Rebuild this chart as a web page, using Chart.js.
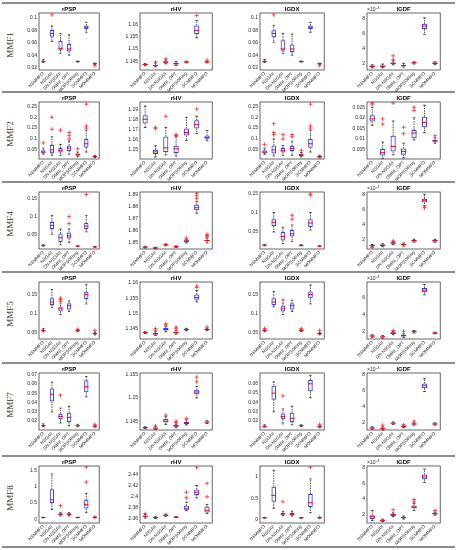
<!DOCTYPE html>
<html>
<head>
<meta charset="utf-8">
<script src="https://cdn.jsdelivr.net/npm/chart.js@4.4.1/dist/chart.umd.min.js"></script>
<style>
  body { margin: 0; background: #fff; }
  #wrap { position: relative; width: 457px; height: 550px; overflow: hidden; }
  .hline { position: absolute; left: 2px; width: 453px; height: 2px; background: #8c8c8c; }
  .rlab { position: absolute; font-family: "Liberation Serif", serif; font-size: 9px; color: #333;
          transform: rotate(-90deg); transform-origin: center; width: 40px; text-align: center; }
  canvas { position: absolute; }
</style>
</head>
<body>
<div id="wrap"></div>
<script>
const categories = ['NSMMFO', 'NSGAII', 'DN-NSGAII', 'OMNI_OPT', 'MOPSORing', 'SCMMFO', 'MOMMFO'];
const rows = ['MMF1', 'MMF2', 'MMF4', 'MMF5', 'MMF7', 'MMF8'];
const metrics = ['rPSP', 'rHV', 'IGDX', 'IGDF'];

// each box: [lower whisker, q1, median, q3, upper whisker]
const MMF1_rPSP = [[0.028,0.0293,0.030,0.0307,0.033],[0.062,0.0695,0.075,0.0805,0.087],[0.043,0.048,0.051,0.063,0.075],[0.040,0.046,0.050,0.058,0.073],[0.0288,0.0294,0.0297,0.0300,0.0305],[0.077,0.082,0.085,0.088,0.093],[0.0250,0.0257,0.0262,0.0266,0.0272]];
const MMF1_rPSP_out = [['NSGAII',0.105],['MOMMFO',0.023]];
const MMF1_rPSP_ticks = [0.02,0.04,0.06,0.08,0.1];
const MMF1_rPSP_lim = [0.016,0.108];

const MMF1_rHV = [[1.1432,1.1435,1.1437,1.1439,1.1441],[1.1428,1.1431,1.1433,1.1436,1.1443],[1.1440,1.1444,1.1446,1.1450,1.1455],[1.1433,1.1437,1.1440,1.1445,1.1449],[1.1444,1.1446,1.1447,1.1449,1.1451],[1.1545,1.1560,1.1575,1.1595,1.1615],[1.1444,1.1446,1.1447,1.1448,1.1450]];
const MMF1_rHV_out = [['NSGAII',1.1447],['DN-NSGAII',1.1460],['SCMMFO',1.1635],['MOMMFO',1.1455]];
const MMF1_rHV_ticks = [1.145,1.15,1.155,1.16];
const MMF1_rHV_lim = [1.1415,1.1645];

const MMF1_IGDX = [[0.028,0.0293,0.030,0.0307,0.033],[0.061,0.069,0.075,0.080,0.088],[0.043,0.047,0.050,0.064,0.075],[0.040,0.045,0.050,0.057,0.074],[0.0288,0.0294,0.0297,0.0300,0.0305],[0.077,0.082,0.085,0.088,0.093],[0.0250,0.0257,0.0262,0.0266,0.0272]];
const MMF1_IGDX_out = [['NSGAII',0.105],['MOMMFO',0.023]];
const MMF1_IGDX_ticks = [0.02,0.04,0.06,0.08,0.1];
const MMF1_IGDX_lim = [0.016,0.108];

const MMF1_IGDF = [[0.0014,0.0015,0.0016,0.0017,0.0018],[0.0014,0.0015,0.0016,0.0017,0.0019],[0.0018,0.0019,0.0020,0.0021,0.0023],[0.0015,0.0016,0.0017,0.0018,0.0020],[0.0019,0.0020,0.00205,0.00215,0.0022],[0.0059,0.0066,0.0070,0.0073,0.0081],[0.0018,0.0019,0.0020,0.0021,0.0022]];
const MMF1_IGDF_out = [['DN-NSGAII',0.0025],['DN-NSGAII',0.0030]];
const MMF1_IGDF_ticks = [0.002,0.004,0.006,0.008];
const MMF1_IGDF_lim = [0.0011,0.00875];

const MMF2_rPSP = [[0.030,0.035,0.040,0.048,0.058],[0.025,0.035,0.050,0.072,0.110],[0.025,0.038,0.048,0.058,0.075],[0.030,0.045,0.058,0.070,0.090],[0.018,0.023,0.028,0.033,0.040],[0.040,0.060,0.078,0.100,0.140],[0.015,0.017,0.020,0.023,0.025]];
const MMF2_rPSP_out = [['NSMMFO',0.082],['NSGAII',0.145],['NSGAII',0.2],['DN-NSGAII',0.14],['OMNI_OPT',0.1],['OMNI_OPT',0.115],['OMNI_OPT',0.13],['MOPSORing',0.055],['SCMMFO',0.15],['SCMMFO',0.16],['SCMMFO',0.26]];
const MMF2_rPSP_ticks = [0.05,0.1,0.15,0.2,0.25];
const MMF2_rPSP_lim = [0.008,0.27];

const MMF2_rHV = [[1.172,1.176,1.180,1.184,1.193],[1.143,1.146,1.148,1.150,1.154],[1.145,1.148,1.152,1.163,1.172],[1.144,1.147,1.151,1.154,1.163],[1.159,1.164,1.167,1.171,1.182],[1.166,1.171,1.175,1.179,1.183],[1.159,1.161,1.162,1.164,1.169]];
const MMF2_rHV_out = [['NSGAII',1.171],['NSGAII',1.172],['DN-NSGAII',1.183],['OMNI_OPT',1.164],['OMNI_OPT',1.165],['SCMMFO',1.19]];
const MMF2_rHV_ticks = [1.15,1.16,1.17,1.18,1.19];
const MMF2_rHV_lim = [1.141,1.197];

const MMF2_IGDX = [[0.030,0.035,0.040,0.048,0.058],[0.022,0.033,0.050,0.070,0.100],[0.025,0.038,0.048,0.058,0.070],[0.025,0.045,0.056,0.068,0.090],[0.018,0.022,0.027,0.032,0.038],[0.040,0.060,0.078,0.100,0.140],[0.013,0.015,0.018,0.022,0.025]];
const MMF2_IGDX_out = [['NSMMFO',0.075],['NSGAII',0.12],['NSGAII',0.13],['NSGAII',0.17],['DN-NSGAII',0.1],['DN-NSGAII',0.12],['OMNI_OPT',0.11],['OMNI_OPT',0.12],['MOPSORing',0.048],['SCMMFO',0.15],['SCMMFO',0.16],['SCMMFO',0.26]];
const MMF2_IGDX_ticks = [0.05,0.1,0.15,0.2,0.25];
const MMF2_IGDX_lim = [0.008,0.27];

const MMF2_IGDF = [[0.0165,0.0183,0.0195,0.0212,0.025],[0.0008,0.0022,0.0035,0.0052,0.0085],[0.0025,0.004,0.0065,0.0115,0.0185],[0.001,0.0025,0.004,0.0055,0.008],[0.0095,0.0103,0.0128,0.0142,0.020],[0.013,0.0155,0.0178,0.0205,0.026],[0.008,0.0088,0.009,0.0095,0.0105]];
const MMF2_IGDF_out = [['NSMMFO',0.0265],['NSMMFO',0.027],['NSGAII',0.017],['NSGAII',0.0195],['DN-NSGAII',0.027],['OMNI_OPT',0.0125],['OMNI_OPT',0.0155],['MOPSORing',0.0235],['MOPSORing',0.025],['MOMMFO',0.0115]];
const MMF2_IGDF_ticks = [0.005,0.01,0.015,0.02,0.025];
const MMF2_IGDF_lim = [0.0005,0.0275];

const MMF4_rPSP = [[0.016,0.017,0.018,0.019,0.020],[0.050,0.065,0.075,0.085,0.103],[0.020,0.028,0.040,0.052,0.065],[0.027,0.038,0.045,0.055,0.065],[0.015,0.0158,0.0163,0.0168,0.0175],[0.057,0.065,0.073,0.082,0.103],[0.013,0.0137,0.014,0.0145,0.015]];
const MMF4_rPSP_out = [['OMNI_OPT',0.08],['OMNI_OPT',0.1],['SCMMFO',0.163]];
const MMF4_rPSP_ticks = [0.05,0.1,0.15];
const MMF4_rPSP_lim = [0.008,0.17];

const MMF4_rHV = [[1.8458,1.8462,1.8465,1.8468,1.8472],[1.8453,1.8456,1.8459,1.8462,1.8465],[1.8478,1.8482,1.8485,1.8488,1.8492],[1.8463,1.8466,1.8469,1.8472,1.8476],[1.8500,1.8508,1.8515,1.8522,1.8530],[1.8745,1.8770,1.8790,1.8815,1.8840],[1.8500,1.8515,1.8520,1.8525,1.8540]];
const MMF4_rHV_out = [['MOPSORing',1.854],['SCMMFO',1.8865],['SCMMFO',1.889],['SCMMFO',1.891],['MOMMFO',1.855],['MOMMFO',1.856],['MOMMFO',1.857]];
const MMF4_rHV_ticks = [1.85,1.86,1.87,1.88,1.89];
const MMF4_rHV_lim = [1.845,1.892];

const MMF4_IGDX = [[0.014,0.015,0.016,0.017,0.018],[0.050,0.065,0.075,0.083,0.100],[0.020,0.028,0.038,0.050,0.062],[0.025,0.038,0.045,0.055,0.068],[0.014,0.015,0.0155,0.016,0.017],[0.055,0.063,0.073,0.083,0.100],[0.012,0.0128,0.0133,0.0138,0.0145]];
const MMF4_IGDX_out = [['OMNI_OPT',0.083],['OMNI_OPT',0.093],['SCMMFO',0.145],['SCMMFO',0.148]];
const MMF4_IGDX_ticks = [0.05,0.1,0.15];
const MMF4_IGDX_lim = [0.006,0.153];

const MMF4_IGDF = [[0.0011,0.0012,0.00125,0.0013,0.0014],[0.0011,0.0012,0.0013,0.0014,0.0015],[0.0014,0.0015,0.0016,0.0017,0.0018],[0.0012,0.0013,0.0014,0.0015,0.0016],[0.0017,0.0018,0.0019,0.0020,0.0021],[0.0066,0.0070,0.0073,0.0075,0.0081],[0.0017,0.0018,0.0019,0.0020,0.0021]];
const MMF4_IGDF_out = [['NSMMFO',0.0010],['DN-NSGAII',0.0019],['SCMMFO',0.0063],['SCMMFO',0.0064]];
const MMF4_IGDF_ticks = [0.002,0.004,0.006,0.008];
const MMF4_IGDF_lim = [0.0008,0.0084];

const MMF5_rPSP = [[0.051,0.053,0.055,0.056,0.060],[0.115,0.122,0.130,0.140,0.163],[0.097,0.105,0.112,0.118,0.125],[0.105,0.110,0.120,0.127,0.133],[0.052,0.054,0.055,0.056,0.057],[0.125,0.138,0.150,0.157,0.177],[0.043,0.045,0.046,0.048,0.050]];
const MMF5_rPSP_out = [['DN-NSGAII',0.132],['DN-NSGAII',0.137],['DN-NSGAII',0.140],['MOPSORing',0.058],['MOMMFO',0.055]];
const MMF5_rPSP_ticks = [0.05,0.1,0.15];
const MMF5_rPSP_lim = [0.032,0.183];

const MMF5_rHV = [[1.1434,1.1436,1.1437,1.1438,1.1440],[1.1428,1.1431,1.1433,1.1436,1.1440],[1.1440,1.1444,1.1447,1.1452,1.1458],[1.1432,1.1435,1.1437,1.1440,1.1444],[1.1443,1.1445,1.1447,1.1449,1.1451],[1.1538,1.1545,1.1552,1.1562,1.1575],[1.1443,1.1445,1.1447,1.1449,1.1451]];
const MMF5_rHV_out = [['NSGAII',1.1445],['NSGAII',1.1450],['DN-NSGAII',1.1462],['DN-NSGAII',1.1466],['OMNI_OPT',1.1450],['OMNI_OPT',1.1455],['SCMMFO',1.1585],['SCMMFO',1.1590],['MOMMFO',1.1455]];
const MMF5_rHV_ticks = [1.145,1.15,1.155,1.16];
const MMF5_rHV_lim = [1.1416,1.1603];

const MMF5_IGDX = [[0.051,0.053,0.055,0.056,0.058],[0.117,0.122,0.130,0.140,0.158],[0.097,0.105,0.112,0.120,0.127],[0.105,0.110,0.120,0.127,0.135],[0.052,0.054,0.055,0.056,0.057],[0.125,0.140,0.150,0.158,0.175],[0.043,0.045,0.046,0.048,0.050]];
const MMF5_IGDX_out = [['NSMMFO',0.060],['DN-NSGAII',0.135],['MOPSORing',0.060],['MOMMFO',0.055]];
const MMF5_IGDX_ticks = [0.05,0.1,0.15];
const MMF5_IGDX_lim = [0.032,0.183];

const MMF5_IGDF = [[0.0013,0.0014,0.00145,0.0015,0.0016],[0.0012,0.0013,0.00135,0.0014,0.0015],[0.0016,0.0017,0.0018,0.0019,0.0020],[0.0013,0.0014,0.0015,0.0016,0.0017],[0.0018,0.0019,0.00195,0.0020,0.0021],[0.0063,0.0066,0.00685,0.0071,0.0075],[0.0017,0.00175,0.0018,0.00185,0.0019]];
const MMF5_IGDF_out = [['DN-NSGAII',0.0021],['OMNI_OPT',0.0020]];
const MMF5_IGDF_ticks = [0.002,0.004,0.006];
const MMF5_IGDF_lim = [0.0011,0.0078];

const MMF7_rPSP = [[0.0140,0.0145,0.0150,0.0155,0.0170],[0.030,0.041,0.049,0.055,0.062],[0.018,0.022,0.025,0.028,0.034],[0.015,0.019,0.024,0.029,0.036],[0.0140,0.0146,0.0150,0.0155,0.0165],[0.046,0.051,0.057,0.064,0.068],[0.0135,0.0140,0.0145,0.0150,0.0155]];
const MMF7_rPSP_out = [['DN-NSGAII',0.048],['MOMMFO',0.0165]];
const MMF7_rPSP_ticks = [0.02,0.03,0.04,0.05,0.06,0.07];
const MMF7_rPSP_lim = [0.0104,0.0718];

const MMF7_rHV = [[1.1434,1.1435,1.1436,1.1437,1.1438],[1.1432,1.1434,1.1435,1.1436,1.1438],[1.1443,1.1447,1.1450,1.1455,1.1460],[1.1436,1.1438,1.1440,1.1442,1.1444],[1.1442,1.1444,1.1446,1.1448,1.1453],[1.1500,1.1508,1.1513,1.1518,1.1525],[1.1445,1.1447,1.1448,1.1449,1.1451]];
const MMF7_rHV_out = [['NSGAII',1.1440],['DN-NSGAII',1.1463],['OMNI_OPT',1.1447],['OMNI_OPT',1.1450],['MOPSORing',1.1456],['SCMMFO',1.1535],['SCMMFO',1.1545]];
const MMF7_rHV_ticks = [1.145,1.15,1.155];
const MMF7_rHV_lim = [1.1431,1.1554];

const MMF7_IGDX = [[0.0135,0.0140,0.0145,0.0150,0.0160],[0.030,0.043,0.050,0.058,0.062],[0.017,0.022,0.025,0.028,0.033],[0.016,0.019,0.023,0.029,0.036],[0.0140,0.0145,0.0150,0.0155,0.0160],[0.045,0.052,0.060,0.064,0.069],[0.0130,0.0135,0.0140,0.0145,0.0150]];
const MMF7_IGDX_out = [['DN-NSGAII',0.047],['MOMMFO',0.0165]];
const MMF7_IGDX_ticks = [0.02,0.03,0.04,0.05,0.06];
const MMF7_IGDX_lim = [0.0104,0.0716];

const MMF7_IGDF = [[0.0012,0.0013,0.00135,0.0014,0.0015],[0.0011,0.00125,0.0013,0.00135,0.0015],[0.0018,0.0019,0.00195,0.0020,0.0021],[0.0014,0.0015,0.00155,0.0016,0.0017],[0.0017,0.0018,0.00185,0.0019,0.0020],[0.0059,0.0063,0.0066,0.0069,0.0075],[0.0017,0.0018,0.00185,0.0019,0.0020]];
const MMF7_IGDF_out = [['NSGAII',0.0017],['OMNI_OPT',0.00175],['MOPSORing',0.0022]];
const MMF7_IGDF_ticks = [0.002,0.004,0.006,0.008];
const MMF7_IGDF_lim = [0.0011,0.0082];

const MMF8_rPSP = [[0.04,0.045,0.05,0.055,0.06],[0.30,0.50,0.60,0.93,1.40],[0.10,0.12,0.15,0.18,0.20],[0.10,0.12,0.15,0.18,0.20],[0.04,0.045,0.05,0.055,0.06],[0.20,0.33,0.45,0.60,0.80],[0.04,0.045,0.05,0.055,0.06]];
const MMF8_rPSP_out = [['DN-NSGAII',0.42],['SCMMFO',1.15],['SCMMFO',1.62],['MOMMFO',0.07]];
const MMF8_rPSP_ticks = [0,0.5,1,1.5];
const MMF8_rPSP_lim = [-0.12,1.65];

const MMF8_rHV = [[2.362,2.364,2.365,2.366,2.368],[2.361,2.362,2.363,2.3635,2.364],[2.365,2.366,2.367,2.368,2.369],[2.3625,2.363,2.3635,2.364,2.3645],[2.375,2.377,2.378,2.384,2.390],[2.398,2.403,2.408,2.413,2.420],[2.370,2.372,2.376,2.382,2.386]];
const MMF8_rHV_out = [['NSMMFO',2.370],['MOPSORing',2.398],['MOPSORing',2.408],['SCMMFO',2.452],['MOMMFO',2.40],['MOMMFO',2.424]];
const MMF8_rHV_ticks = [2.36,2.38,2.4,2.42,2.44];
const MMF8_rHV_lim = [2.353,2.455];

const MMF8_IGDX = [[0.04,0.045,0.05,0.055,0.06],[0.27,0.42,0.57,0.77,1.15],[0.10,0.12,0.14,0.16,0.20],[0.09,0.11,0.13,0.16,0.20],[0.04,0.045,0.05,0.055,0.06],[0.17,0.30,0.40,0.60,0.95],[0.04,0.045,0.05,0.055,0.06]];
const MMF8_IGDX_out = [['DN-NSGAII',0.42],['SCMMFO',1.22],['MOMMFO',0.06]];
const MMF8_IGDX_ticks = [0,0.5,1];
const MMF8_IGDX_lim = [-0.07,1.25];

const MMF8_IGDF = [[0.0012,0.0014,0.0017,0.0019,0.0025],[0.0011,0.0012,0.00125,0.0013,0.0014],[0.0017,0.0018,0.00195,0.00205,0.0022],[0.0014,0.0015,0.0016,0.0017,0.0018],[0.0025,0.0028,0.00295,0.00315,0.0034],[0.0061,0.0065,0.0068,0.0071,0.0078],[0.0019,0.0020,0.0021,0.0022,0.0023]];
const MMF8_IGDF_out = [['DN-NSGAII',0.0026],['MOPSORing',0.0036],['MOPSORing',0.0039],['MOMMFO',0.0025]];
const MMF8_IGDF_ticks = [0.002,0.004,0.006,0.008];
const MMF8_IGDF_lim = [0.0009,0.0082];

// panels scaled by 10^-3 on the y axis
const scaledPanels = ['MMF1_IGDF', 'MMF4_IGDF', 'MMF5_IGDF', 'MMF7_IGDF', 'MMF8_IGDF'];

const store = {
  MMF1_rPSP, MMF1_rPSP_out, MMF1_rPSP_ticks, MMF1_rPSP_lim, MMF1_rHV, MMF1_rHV_out, MMF1_rHV_ticks, MMF1_rHV_lim,
  MMF1_IGDX, MMF1_IGDX_out, MMF1_IGDX_ticks, MMF1_IGDX_lim, MMF1_IGDF, MMF1_IGDF_out, MMF1_IGDF_ticks, MMF1_IGDF_lim,
  MMF2_rPSP, MMF2_rPSP_out, MMF2_rPSP_ticks, MMF2_rPSP_lim, MMF2_rHV, MMF2_rHV_out, MMF2_rHV_ticks, MMF2_rHV_lim,
  MMF2_IGDX, MMF2_IGDX_out, MMF2_IGDX_ticks, MMF2_IGDX_lim, MMF2_IGDF, MMF2_IGDF_out, MMF2_IGDF_ticks, MMF2_IGDF_lim,
  MMF4_rPSP, MMF4_rPSP_out, MMF4_rPSP_ticks, MMF4_rPSP_lim, MMF4_rHV, MMF4_rHV_out, MMF4_rHV_ticks, MMF4_rHV_lim,
  MMF4_IGDX, MMF4_IGDX_out, MMF4_IGDX_ticks, MMF4_IGDX_lim, MMF4_IGDF, MMF4_IGDF_out, MMF4_IGDF_ticks, MMF4_IGDF_lim,
  MMF5_rPSP, MMF5_rPSP_out, MMF5_rPSP_ticks, MMF5_rPSP_lim, MMF5_rHV, MMF5_rHV_out, MMF5_rHV_ticks, MMF5_rHV_lim,
  MMF5_IGDX, MMF5_IGDX_out, MMF5_IGDX_ticks, MMF5_IGDX_lim, MMF5_IGDF, MMF5_IGDF_out, MMF5_IGDF_ticks, MMF5_IGDF_lim,
  MMF7_rPSP, MMF7_rPSP_out, MMF7_rPSP_ticks, MMF7_rPSP_lim, MMF7_rHV, MMF7_rHV_out, MMF7_rHV_ticks, MMF7_rHV_lim,
  MMF7_IGDX, MMF7_IGDX_out, MMF7_IGDX_ticks, MMF7_IGDX_lim, MMF7_IGDF, MMF7_IGDF_out, MMF7_IGDF_ticks, MMF7_IGDF_lim,
  MMF8_rPSP, MMF8_rPSP_out, MMF8_rPSP_ticks, MMF8_rPSP_lim, MMF8_rHV, MMF8_rHV_out, MMF8_rHV_ticks, MMF8_rHV_lim,
  MMF8_IGDX, MMF8_IGDX_out, MMF8_IGDX_ticks, MMF8_IGDX_lim, MMF8_IGDF, MMF8_IGDF_out, MMF8_IGDF_ticks, MMF8_IGDF_lim
};

// layout
const lineY = [2, 91, 181, 271, 362, 455, 546];
const plotX = [[39, 100], [140, 213], [260, 325], [367, 441]];
const PLOT_TOP = 11, PLOT_H = 57, CANVAS_H = 88, Y_AXIS_W = 30, PAD_R = 4;
const FONT = '"Liberation Sans", Arial, sans-serif';

function fmt(v) { return String(parseFloat(v.toFixed(5))); }

const boxPlugin = {
  id: 'boxes',
  beforeDatasetsDraw(chart, args, opts) {
    const { ctx, scales: { x, y } } = chart;
    const step = x.width / opts.stats.length;
    ctx.save();
    ctx.strokeStyle = '#000';
    ctx.lineWidth = 0.7;
    opts.stats.forEach((s, i) => {
      const cx = x.getPixelForValue(i);
      const cap = step * 0.13;
      const [lo, q1, , q3, hi] = s.map(v => y.getPixelForValue(v));
      ctx.setLineDash([1.5, 1]);
      ctx.beginPath();
      ctx.moveTo(cx, q3); ctx.lineTo(cx, hi);
      ctx.moveTo(cx, q1); ctx.lineTo(cx, lo);
      ctx.stroke();
      ctx.setLineDash([]);
      ctx.beginPath();
      ctx.moveTo(cx - cap, hi); ctx.lineTo(cx + cap, hi);
      ctx.moveTo(cx - cap, lo); ctx.lineTo(cx + cap, lo);
      ctx.stroke();
    });
    ctx.restore();
  },
  afterDatasetsDraw(chart, args, opts) {
    const { ctx, chartArea: a, scales: { x, y } } = chart;
    const step = x.width / opts.stats.length;
    ctx.save();
    ctx.strokeStyle = '#ff0000';
    ctx.lineWidth = 1;
    opts.stats.forEach((s, i) => {
      const cx = x.getPixelForValue(i);
      const m = y.getPixelForValue(s[2]);
      ctx.beginPath();
      ctx.moveTo(cx - step * 0.25, m); ctx.lineTo(cx + step * 0.25, m);
      ctx.stroke();
    });
    ctx.strokeStyle = '#262626';
    ctx.lineWidth = 0.7;
    ctx.strokeRect(a.left, a.top, a.width, a.height);
    ctx.fillStyle = '#000';
    ctx.font = 'bold 6px ' + FONT;
    ctx.textAlign = 'center';
    ctx.textBaseline = 'bottom';
    ctx.fillText(opts.title, (a.left + a.right) / 2, a.top - 1);
    if (opts.scaled) {
      ctx.fillStyle = '#262626';
      ctx.textAlign = 'left';
      ctx.font = '5px ' + FONT;
      ctx.fillText('\u00d710', a.left, a.top - 1);
      ctx.font = '4px ' + FONT;
      ctx.fillText('-3', a.left + 9, a.top - 3);
    }
    ctx.restore();
  }
};

const wrap = document.getElementById('wrap');
lineY.forEach(yy => {
  const d = document.createElement('div');
  d.className = 'hline';
  d.style.top = yy + 'px';
  wrap.appendChild(d);
});

rows.forEach((row, r) => {
  const lab = document.createElement('div');
  lab.className = 'rlab';
  lab.textContent = row;
  lab.style.left = (-10) + 'px';
  lab.style.top = (lineY[r] + 38) + 'px';
  wrap.appendChild(lab);

  metrics.forEach((m, c) => {
    const key = row + '_' + m;
    const stats = store[key];
    const outs = store[key + '_out'];
    const ticks = store[key + '_ticks'];
    const lim = store[key + '_lim'];
    const scaled = scaledPanels.includes(key);

    const [pl, pr] = plotX[c];
    const w = Y_AXIS_W + (pr - pl) + PAD_R;
    const cv = document.createElement('canvas');
    cv.width = w;
    cv.height = CANVAS_H;
    cv.style.left = (pl - Y_AXIS_W) + 'px';
    cv.style.top = (lineY[r] + 2) + 'px';
    wrap.appendChild(cv);

    new Chart(cv, {
      type: 'bar',
      data: {
        labels: categories,
        datasets: [{
          data: stats.map(s => [s[1], s[3]]),
          backgroundColor: 'rgba(0,0,0,0)',
          borderColor: '#3a3aff',
          borderWidth: 1,
          borderSkipped: false,
          barPercentage: 0.5,
          categoryPercentage: 1
        }, {
          type: 'scatter',
          data: outs.map(o => ({ x: o[0], y: o[1] })),
          pointStyle: 'cross',
          pointRadius: 2,
          borderColor: '#ff2a2a',
          borderWidth: 0.8,
          backgroundColor: '#ff2a2a'
        }]
      },
      options: {
        responsive: false,
        animation: false,
        devicePixelRatio: 1,
        layout: { padding: { top: PLOT_TOP - 2, right: PAD_R, left: 0, bottom: 0 } },
        plugins: {
          legend: { display: false },
          tooltip: { enabled: false },
          boxes: { stats: stats, title: m, scaled: scaled }
        },
        scales: {
          x: {
            offset: true,
            grid: { display: false, drawTicks: false, tickLength: 0 },
            border: { display: false },
            ticks: {
              autoSkip: false, minRotation: 45, maxRotation: 45, padding: 1,
              color: '#262626', font: { family: FONT, size: 4.5 }
            },
            afterFit: s => { s.height = CANVAS_H - (PLOT_TOP - 2) - PLOT_H; }
          },
          y: {
            min: lim[0],
            max: lim[1],
            grid: { display: false, drawTicks: false, tickLength: 0 },
            border: { display: false },
            afterBuildTicks: s => { s.ticks = ticks.map(v => ({ value: v })); },
            afterFit: s => { s.width = Y_AXIS_W; },
            ticks: {
              padding: 2,
              color: '#262626',
              font: { family: FONT, size: 5 },
              callback: v => scaled ? fmt(v * 1000) : fmt(v)
            }
          }
        }
      },
      plugins: [boxPlugin]
    });
  });
});
</script>
</body>
</html>
